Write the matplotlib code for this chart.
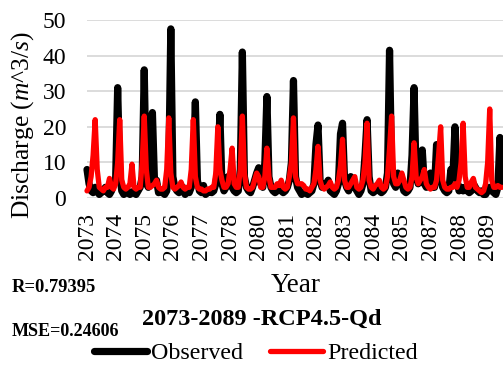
import matplotlib
matplotlib.use("Agg")
import matplotlib.pyplot as plt
import numpy as np

plt.rcParams['font.family'] = ['Liberation Serif', 'DejaVu Serif']
plt.rcParams['mathtext.fontset'] = 'custom'
plt.rcParams['mathtext.rm'] = 'Liberation Serif'
plt.rcParams['mathtext.it'] = 'Liberation Serif:italic'

# Monthly discharge 2073-2089 (204 months)
observed = [
    8, 4, 2, 1.5, 3, 2, 1, 1.5, 2, 3, 1.5, 1,
    2, 4, 5, 31, 7, 2, 1, 1.5, 2, 1, 1.5, 2,
    1, 2, 3, 6, 36, 4, 3, 5, 24, 5, 5, 1.5,
    2, 1.5, 1, 2, 8, 47.5, 6, 3, 2, 1.5, 2, 3,
    1, 2, 1.5, 3, 8, 27, 5, 2, 1.5, 3.5, 1, 1.5,
    2, 1.5, 2, 4, 8, 23.5, 4, 2, 3, 6, 5, 3,
    2, 1.5, 2, 8, 41, 6, 3, 2, 1.5, 3, 5, 7,
    8.5, 4, 3, 10, 28.5, 6, 3, 2, 1.5, 2, 3, 2,
    1.5, 2, 3, 5, 10, 33, 6, 3, 2, 1, 1.5, 2,
    1, 1.5, 2, 4, 15, 20.5, 5, 3, 3, 4, 5, 2,
    1.5, 1, 2, 4, 18, 21, 5, 3, 2, 6, 3, 3,
    2, 1, 2, 4, 12, 22, 6, 2, 1.5, 2, 3, 2,
    1.5, 2, 3, 7, 41.5, 8, 4, 3, 7, 5, 4, 2,
    1.5, 2, 3, 12, 31, 6, 4, 7, 13.5, 4, 3, 5,
    7, 3, 3, 15, 6, 5, 3, 2, 1.5, 2, 8, 6,
    20, 5, 2, 3, 2, 3, 2, 1.5, 2, 4, 3, 2,
    1.5, 2, 1, 1, 2, 3, 2, 1.5, 1, 3, 17, 4,
]
predicted = [
    2, 3, 6, 12, 22, 8, 3, 2.5, 2, 3, 3, 5.5,
    3, 2.5, 4, 10, 22, 5, 3, 2.5, 3, 4, 9.5, 3,
    2.5, 3, 3, 10, 23, 8, 3, 3, 3.5, 4, 5, 3,
    2.5, 2.5, 3, 8, 22.5, 7, 3, 2.5, 3, 3.5, 4.5, 3,
    2.5, 3, 3, 8, 22, 6, 3, 2.5, 2.5, 2, 2, 2.5,
    2.5, 3, 3, 7, 20, 8, 5, 3, 3, 4, 8, 14,
    4, 3, 3, 8, 23, 7, 3, 2.5, 2.5, 3, 5, 7,
    6, 3, 3, 6, 14, 6, 3, 3, 3, 4, 3.5, 5,
    3, 2.5, 3, 6, 10, 22.5, 6, 4, 4, 4, 3.5, 2.5,
    2.5, 2, 3, 4, 8, 14.5, 5, 3, 2.5, 3, 3.5, 4.5,
    3, 2.5, 3, 5, 9, 16.5, 5, 3, 3, 4, 5, 6,
    3, 2.5, 3, 5, 10, 21, 5, 3, 2.5, 3.5, 4, 5,
    3, 2.5, 3, 6, 14, 23, 6, 4, 4, 5, 7, 5,
    3, 2.5, 3, 6, 15.5, 6, 4, 5, 6, 8, 4, 3,
    2.5, 3, 3, 5, 12, 20, 5, 3, 2.5, 2.5, 3, 3,
    4, 3, 5, 10, 21, 6, 3, 3, 4.5, 5.5, 3, 2.5,
    2, 1.5, 2, 4, 10, 25, 5, 3, 3, 3.5, 3, 3,
]
tick_labels = ['2073', '2074', '2075', '2076', '2077', '2078', '2080', '2081',
               '2082', '2083', '2084', '2085', '2087', '2088', '2089']
tick_step = 14

W, H = 503, 369
fig = plt.figure(figsize=(W / 100, H / 100), dpi=100)
ax = fig.add_axes([87 / W, 1 - 198 / H, (W - 87) / W, (198 - 20) / H])

x = np.arange(len(observed))
l1, = ax.plot(x, observed, color='black', lw=5.2, solid_joinstyle='round',
              solid_capstyle='round', label='Observed', clip_on=False, zorder=3)
l2, = ax.plot(x, predicted, color='#ff0000', lw=3.8, solid_joinstyle='round',
              solid_capstyle='round', label='Predicted', clip_on=False, zorder=4)

ax.set_ylim(0, 50)
ax.set_xlim(0, len(observed) - 0.5)
ax.set_yticks(np.arange(0, 51, 10))
ax.set_xticks(x[::tick_step])
ax.set_xticklabels(tick_labels, rotation=90)
ax.tick_params(axis='both', length=0, labelsize=17)
ax.tick_params(axis='y', pad=15)
ax.tick_params(axis='x', pad=11)
ax.grid(axis='y', color='#d9d9d9', lw=1.3)
ax.set_axisbelow(True)
for s in ax.spines.values():
    s.set_visible(False)

fig.text(23 / W, 1 - 125 / H, 'Discharge ($m$^3/$s$)', rotation=90,
         ha='center', va='center', fontsize=18.4)
fig.text(296 / W, 1 - 285 / H, 'Year', ha='center', va='center', fontsize=19.5)
fig.text(262 / W, 1 - 319 / H, '2073-2089 -RCP4.5-Qd', ha='center', va='center',
         fontsize=17.5, fontweight='bold')
fig.text(12 / W, 1 - 287 / H, 'R=0.79395', ha='left', va='center',
         fontsize=13.3, fontweight='bold')
fig.text(12 / W, 1 - 332 / H, 'MSE=0.24606', ha='left', va='center',
         fontsize=13, fontweight='bold')

fig.legend(handles=[l1, l2], loc='center', bbox_to_anchor=(256 / W, 1 - 353 / H),
           ncol=2, frameon=False, fontsize=17.3, handlelength=2.2,
           handletextpad=0.2, columnspacing=1.1, borderpad=0, borderaxespad=0)

fig.savefig('out.png', dpi=100)
